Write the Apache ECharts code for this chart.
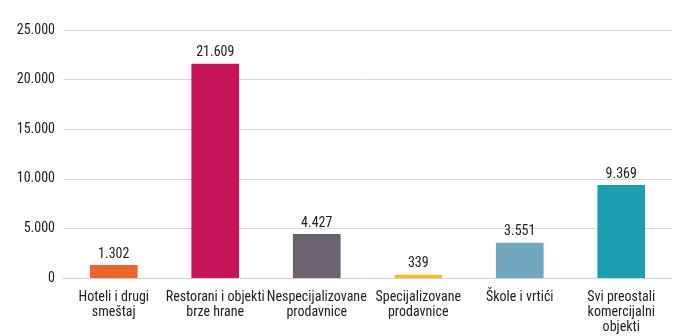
<!DOCTYPE html>
<html><head><meta charset="utf-8">
<script src="https://cdn.jsdelivr.net/npm/echarts@6/dist/echarts.min.js"></script>
<style>html,body{margin:0;padding:0;background:#fff}#c{width:690px;height:336px}</style>
</head><body><div id="c"></div>
<script>
var categories = ['Hoteli i drugi\nsmeštaj','Restorani i objekti\nbrze hrane','Nespecijalizovane\nprodavnice','Specijalizovane\nprodavnice','Škole i vrtići','Svi preostali\nkomercijalni\nobjekti'];
var values = [1302, 21609, 4427, 339, 3551, 9369];
var colors = ['#E9672F','#C51458','#6A636F','#E9C12C','#6FA8BF','#1C9DB0'];
var FONT = '"Roboto Condensed",sans-serif';
function fmt(v){return String(v).replace(/\B(?=(\d{3})+(?!\d))/g,'.');}
var chart = echarts.init(document.getElementById('c'));
chart.setOption({
  animation:false,
  grid:{left:63,right:18,top:30,bottom:58},
  xAxis:{type:'category',data:categories,
    axisLine:{lineStyle:{color:'#d0d0d0'}},axisTick:{show:false},
    axisLabel:{color:'#222',fontFamily:FONT,fontSize:14,lineHeight:15,margin:12,interval:0}},
  yAxis:{type:'value',min:0,max:25000,interval:5000,
    axisLine:{show:false},axisTick:{show:false},
    splitLine:{lineStyle:{color:'#d9d9d9'}},
    axisLabel:{color:'#222',fontFamily:FONT,fontSize:14,margin:8,formatter:fmt}},
  series:[{type:'bar',barWidth:'47%',
    data:values.map(function(v,i){return {value:v,itemStyle:{color:colors[i]}};}),
    label:{show:true,position:'top',distance:4,color:'#222',fontFamily:FONT,fontSize:14,
      formatter:function(p){return fmt(p.value);}}}]
});
</script></body></html>
